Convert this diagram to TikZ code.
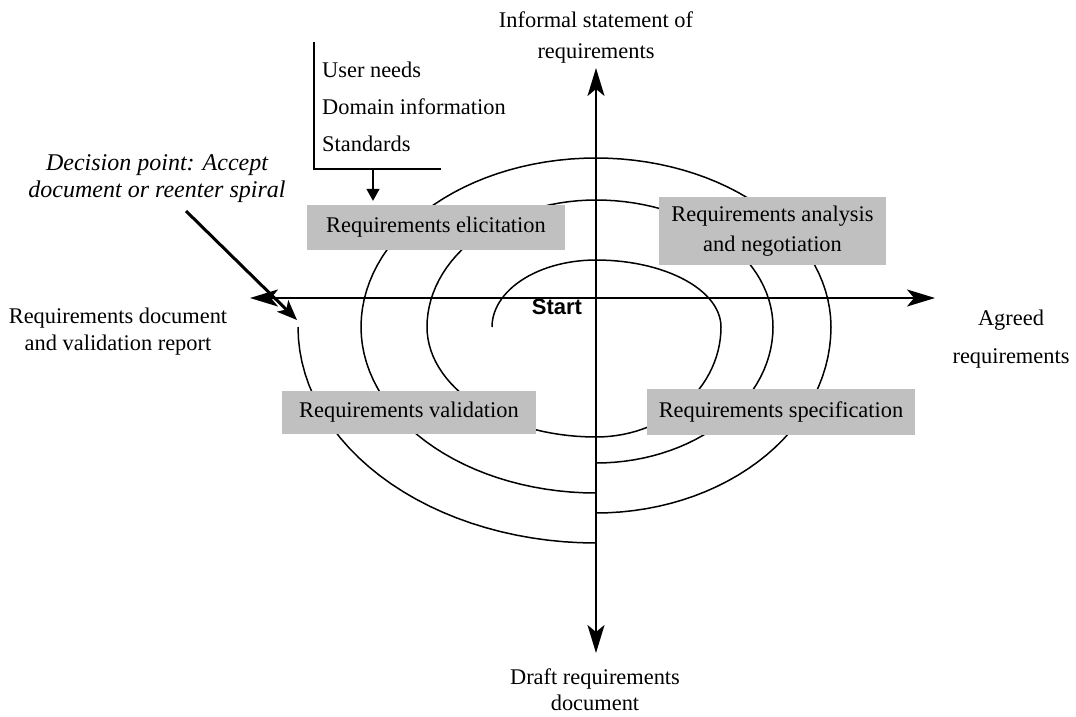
\documentclass[tikz,border=0pt]{standalone}
\usepackage{fontspec}
\setmainfont{Liberation Serif}
\newfontfamily\labelsans{Liberation Sans}
\usetikzlibrary{arrows.meta}
\definecolor{phasegray}{RGB}{192,192,192}
\begin{document}
\begin{tikzpicture}[x=1pt,y=-1pt,
  lbl/.style={inner sep=0pt, align=center, font=\fontsize{22.4}{31}\selectfont},
  phase/.style={fill=phasegray, draw=none, inner sep=0pt, align=center,
    font=\fontsize{22.4}{30}\selectfont},
  axis/.style={line width=1.9pt, {Stealth[length=28pt,width=17pt,inset=7pt]}-{Stealth[length=28pt,width=17pt,inset=7pt]}},
  loop/.style={line width=1.5pt, line join=round},
  feed/.style={line width=1.5pt},
]
\useasboundingbox (0,0) rectangle (1076,716);

% ---- spiral: quarter ellipses about (596,327) ----
\draw[loop]
  plot[domain=180:270, samples=30, variable=\t] ({596+104*cos(\t)},{327+67*sin(\t)})
  -- plot[domain=270:360, samples=30, variable=\t] ({596+125*cos(\t)},{327+67*sin(\t)})
  -- plot[domain=0:90, samples=30, variable=\t] ({596+125*cos(\t)},{327+110*sin(\t)})
  -- plot[domain=90:180, samples=30, variable=\t] ({596+169*cos(\t)},{327+110*sin(\t)})
  -- plot[domain=180:270, samples=30, variable=\t] ({596+169*cos(\t)},{327+127*sin(\t)})
  -- plot[domain=270:360, samples=30, variable=\t] ({596+177*cos(\t)},{327+127*sin(\t)})
  -- plot[domain=0:90, samples=30, variable=\t] ({596+177*cos(\t)},{327+136*sin(\t)});
\draw[loop]
  plot[domain=90:180, samples=30, variable=\t] ({596+235*cos(\t)},{327+166*sin(\t)})
  -- plot[domain=180:270, samples=30, variable=\t] ({596+235*cos(\t)},{327+169*sin(\t)})
  -- plot[domain=270:360, samples=30, variable=\t] ({596+235*cos(\t)},{327+169*sin(\t)})
  -- plot[domain=0:90, samples=30, variable=\t] ({596+235*cos(\t)},{327+186*sin(\t)});
\draw[loop]
  plot[domain=90:180, samples=30, variable=\t] ({596+298*cos(\t)},{327+216*sin(\t)});

% ---- axes ----
\coordinate (ntop) at (596,68);
\coordinate (nbot) at (596,653);
\coordinate (wleft) at (250,298);
\coordinate (eright) at (935,298);
\draw[axis] (ntop) -- (nbot);
\draw[axis] (wleft) -- (eright);

% ---- phase boxes ----
\node[phase, minimum width=258pt, minimum height=45pt] (elic) at (436,227.5) {Requirements elicitation};
\node[phase, minimum width=227pt, minimum height=68pt] (anal) at (772.5,231) {Requirements analysis\\and negotiation};
\node[phase, minimum width=254pt, minimum height=43pt] (valid) at (409,412.5) {Requirements validation};
\node[phase, minimum width=268pt, minimum height=46pt] (spec) at (781,412) {Requirements specification};

% ---- inputs to elicitation ----
\coordinate (brtop) at (314,42);
\coordinate (brcorner) at (314,169);
\coordinate (brend) at (441,169);
\draw[feed] (brtop) -- (brcorner) -- (brend);
\coordinate (infeed) at (373,169);
\draw[feed, -{Triangle[length=12pt,width=13pt]}, shorten >=4pt] (infeed) -- (infeed |- elic.north);
\node[lbl, anchor=west] (needs) at (322,70) {User needs};
\node[lbl, anchor=west] (domain) at (322,107) {Domain information};
\node[lbl, anchor=west] (stds) at (322,144) {Standards};

% ---- axis labels ----
\node[lbl] (informal) at (596,37) {Informal statement of\\requirements};
\node[lbl, font=\fontsize{22.4}{38}\selectfont] (agreed) at (1011,339) {Agreed\\requirements};
\node[lbl, font=\fontsize{22.4}{26}\selectfont] (draft) at (595,690) {Draft requirements\\document};
\node[lbl, font=\fontsize{22.4}{27}\selectfont] (reqdoc) at (118,332) {Requirements document\\and validation report};
\node[inner sep=0pt, font=\labelsans\bfseries\fontsize{22}{26}\selectfont] (start) at (557,307) {Start};

% ---- decision point ----
\node[lbl, font=\itshape\fontsize{24}{27}\selectfont] (decision) at (157,179) {Decision point: Accept\\document or reenter spiral};
\coordinate (dtail) at (186,211);
\coordinate (dtip) at (297,320);
\draw[line width=3pt, -{Stealth[length=20pt,width=16pt,inset=5pt]}] (dtail) -- (dtip);
\end{tikzpicture}
\end{document}
